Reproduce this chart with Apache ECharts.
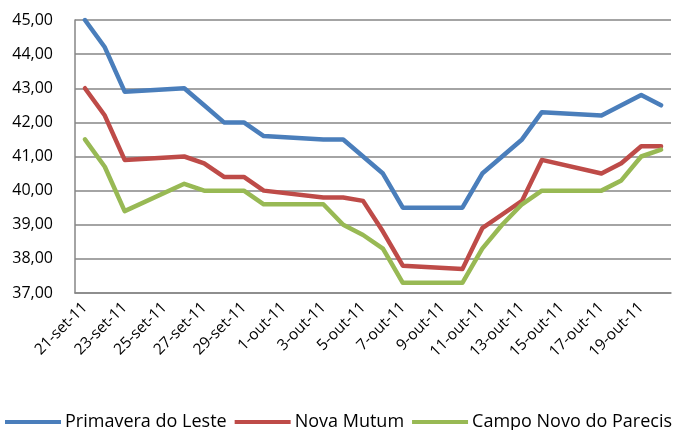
<!DOCTYPE html>
<html>
<head>
<meta charset="utf-8">
<script src="https://cdn.jsdelivr.net/npm/echarts@6/dist/echarts.min.js"></script>
<style>
  html, body { margin: 0; padding: 0; background: #fff; }
  #chart { width: 678px; height: 430px; }
</style>
</head>
<body>
<div id="chart"></div>
<script>
// dias (eixo de datas, 21-set-11 a 20-out-11)
var dias = [
  '21-set-11', '22-set-11', '23-set-11', '24-set-11', '25-set-11', '26-set-11',
  '27-set-11', '28-set-11', '29-set-11', '30-set-11', '1-out-11', '2-out-11',
  '3-out-11', '4-out-11', '5-out-11', '6-out-11', '7-out-11', '8-out-11',
  '9-out-11', '10-out-11', '11-out-11', '12-out-11', '13-out-11', '14-out-11',
  '15-out-11', '16-out-11', '17-out-11', '18-out-11', '19-out-11', '20-out-11'
];
// fins de semana sem cotação -> null
var primavera = [45.0, 44.2, 42.9, null, null, 43.0, 42.5, 42.0, 42.0, 41.6, null, null,
  41.5, 41.5, 41.0, 40.5, 39.5, null, null, 39.5, 40.5, 41.0, 41.5, 42.3,
  null, null, 42.2, 42.5, 42.8, 42.5];
var novaMutum = [43.0, 42.2, 40.9, null, null, 41.0, 40.8, 40.4, 40.4, 40.0, null, null,
  39.8, 39.8, 39.7, 38.8, 37.8, null, null, 37.7, 38.9, 39.3, 39.7, 40.9,
  null, null, 40.5, 40.8, 41.3, 41.3];
var campoNovo = [41.5, 40.7, 39.4, null, null, 40.2, 40.0, 40.0, 40.0, 39.6, null, null,
  39.6, 39.0, 38.7, 38.3, 37.3, null, null, 37.3, 38.3, 39.0, 39.6, 40.0,
  null, null, 40.0, 40.3, 41.0, 41.2];

var nomes = ['Primavera do Leste', 'Nova Mutum', 'Campo Novo do Parecis'];
var cores = ['#4A7EBB', '#BE4B48', '#98B954'];
var series_dados = [primavera, novaMutum, campoNovo];

var fonte = 'Open Sans, Liberation Sans, sans-serif';
var myChart = echarts.init(document.getElementById('chart'));

var series = [];
for (var i = 0; i < nomes.length; i++) {
  series.push({
    name: nomes[i],
    type: 'line',
    data: series_dados[i],
    connectNulls: true,
    symbol: 'none',
    animation: false,
    lineStyle: { color: cores[i], width: 4.5, cap: 'round', join: 'round' },
    itemStyle: { color: cores[i] }
  });
}

var option = {
  backgroundColor: '#fff',
  grid: { left: 75, right: 7, top: 20, bottom: 137 },
  legend: {
    data: nomes,
    icon: 'rect',
    left: 0,
    top: 408,
    itemGap: 8,
    itemWidth: 56,
    itemHeight: 4,
    textStyle: { fontFamily: fonte, fontSize: 18, color: '#000', padding: [0, 0, 0, -1] }
  },
  xAxis: {
    type: 'category',
    data: dias,
    boundaryGap: true,
    axisLine: { lineStyle: { color: '#868686', width: 1.5 } },
    axisTick: { show: false },
    axisLabel: {
      interval: 1,
      rotate: 45,
      margin: 12,
      color: '#000',
      fontFamily: fonte,
      fontSize: 15.5
    }
  },
  yAxis: {
    type: 'value',
    min: 37,
    max: 45,
    interval: 1,
    axisLine: { show: true, lineStyle: { color: '#868686', width: 1.5 } },
    axisTick: { show: false },
    splitLine: { lineStyle: { color: '#868686', width: 1.5 } },
    axisLabel: {
      color: '#000',
      fontFamily: fonte,
      fontSize: 16,
      margin: 22,
      formatter: function (v) { return v.toFixed(2).replace('.', ','); }
    }
  },
  series: series
};
myChart.setOption(option);
</script>
</body>
</html>
